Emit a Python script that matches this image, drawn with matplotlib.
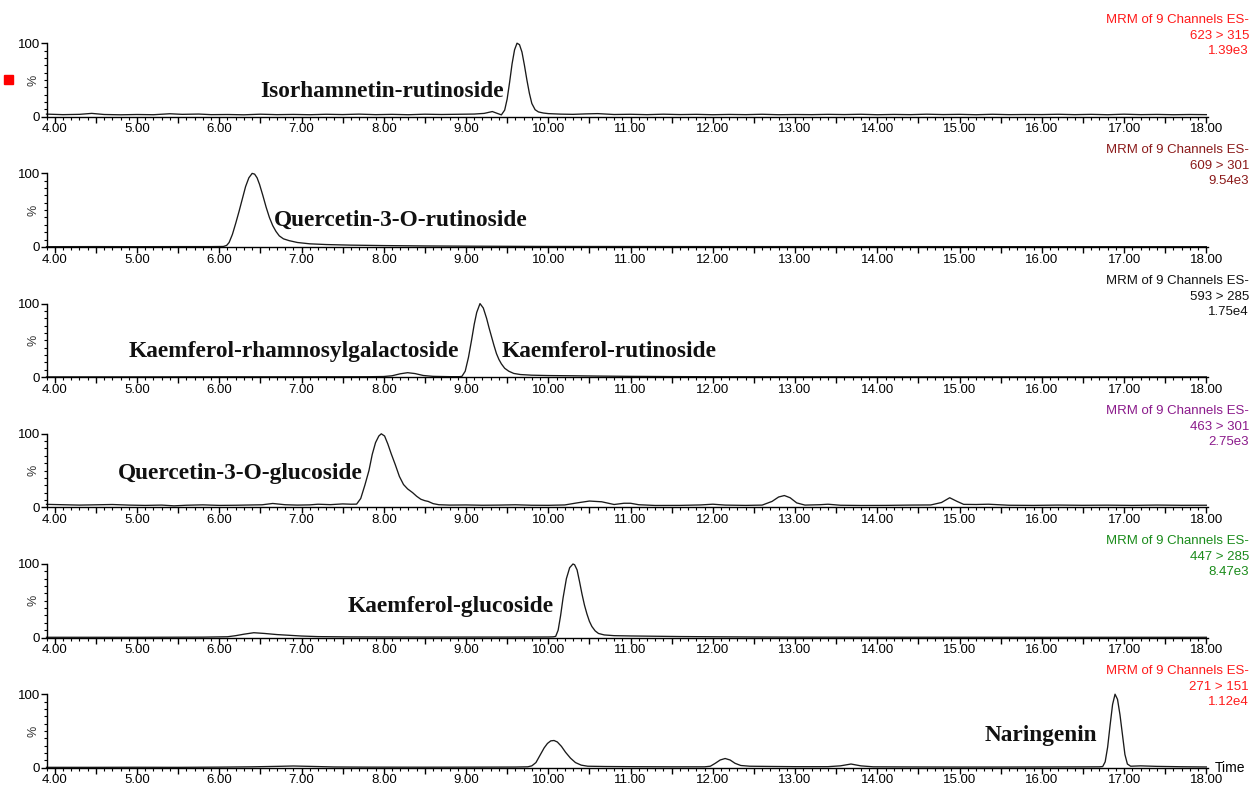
import matplotlib
matplotlib.use("Agg")
import matplotlib.pyplot as plt
import matplotlib.ticker as ticker
from matplotlib.patches import Rectangle

# MRM chromatograms, (retention time [min], relative intensity [%]) per channel
trace_1 = [(3.90, 3.5), (4.10, 2.8), (4.30, 3.2), (4.45, 4.5), (4.60, 3.0), (4.80, 2.6),
           (5.00, 3.0), (5.20, 2.7), (5.40, 4.0), (5.55, 3.2), (5.75, 3.6), (5.90, 2.8),
           (6.10, 3.0), (6.30, 2.6), (6.50, 3.4), (6.70, 2.8), (6.90, 3.1), (7.10, 2.7),
           (7.30, 3.3), (7.50, 2.9), (7.70, 3.5), (7.90, 2.8), (8.10, 3.2), (8.30, 2.7),
           (8.50, 3.4), (8.70, 3.0), (8.90, 3.3), (9.10, 3.6), (9.22, 4.5), (9.32, 7.0),
           (9.38, 4.5), (9.43, 2.5), (9.47, 9.0), (9.50, 24), (9.53, 47), (9.56, 72),
           (9.59, 91), (9.62, 100), (9.65, 98), (9.68, 88), (9.71, 70), (9.74, 50),
           (9.77, 32), (9.80, 18), (9.84, 9.5), (9.88, 6.5), (9.94, 5.0), (10.00, 4.2),
           (10.15, 3.5), (10.30, 3.2), (10.45, 3.8), (10.60, 4.2), (10.80, 3.0), (11.00, 3.3),
           (11.20, 2.8), (11.40, 3.4), (11.60, 2.9), (11.80, 3.2), (12.00, 2.7), (12.20, 3.1),
           (12.40, 2.8), (12.60, 3.3), (12.80, 2.7), (13.00, 3.0), (13.20, 2.8), (13.40, 3.2),
           (13.60, 2.9), (13.80, 3.3), (14.00, 2.7), (14.20, 3.1), (14.40, 2.8), (14.60, 3.4),
           (14.80, 2.9), (15.00, 3.2), (15.20, 2.7), (15.40, 3.3), (15.60, 2.8), (15.80, 3.0),
           (16.00, 2.9), (16.20, 3.3), (16.40, 2.8), (16.60, 3.2), (16.80, 2.7), (17.00, 3.4),
           (17.20, 2.8), (17.40, 3.1), (17.60, 2.7), (17.80, 3.0), (18.00, 2.8)]

trace_2 = [(3.90, 0.3), (4.50, 0.4), (5.00, 0.3), (5.50, 0.4), (5.90, 0.4), (6.05, 0.6),
           (6.09, 2), (6.12, 6), (6.16, 17), (6.20, 32), (6.24, 48), (6.28, 65), (6.32, 82),
           (6.36, 94), (6.40, 100), (6.43, 99), (6.46, 94), (6.49, 85), (6.53, 70), (6.57, 54),
           (6.61, 40), (6.65, 29), (6.69, 21), (6.73, 15), (6.78, 11), (6.85, 8.5), (6.95, 6),
           (7.10, 4.2), (7.30, 3.2), (7.60, 2.4), (8.00, 1.8), (8.50, 1.3), (9.00, 1.0),
           (9.50, 0.8), (10.0, 0.6), (11.0, 0.5), (12.0, 0.4), (14.0, 0.4), (16.0, 0.3),
           (18.0, 0.3)]

trace_3 = [(3.90, 0.3), (5.00, 0.3), (6.00, 0.4), (7.00, 0.4), (7.80, 0.5), (8.00, 0.8),
           (8.10, 1.8), (8.20, 4.5), (8.29, 6), (8.38, 4.8), (8.48, 2.2), (8.60, 1.0),
           (8.80, 0.6), (8.92, 0.6), (8.95, 1), (8.99, 8), (9.03, 27), (9.07, 52), (9.10, 72),
           (9.13, 88), (9.17, 100), (9.21, 94), (9.25, 80), (9.28, 67), (9.31, 55), (9.34, 43),
           (9.37, 32), (9.40, 24), (9.43, 18), (9.47, 12), (9.52, 8), (9.58, 5), (9.66, 3.5),
           (9.80, 2.6), (10.0, 2.1), (10.3, 1.8), (10.6, 1.4), (11.0, 1.0), (11.5, 0.7),
           (12.0, 0.5), (13.0, 0.4), (15.0, 0.3), (18.0, 0.3)]

trace_4 = [(3.90, 4.0), (4.10, 3.5), (4.30, 3.0), (4.50, 3.4), (4.70, 3.8), (4.90, 3.0),
           (5.10, 2.6), (5.30, 3.0), (5.45, 2.0), (5.60, 2.8), (5.80, 3.3), (6.00, 2.6),
           (6.20, 2.8), (6.40, 3.2), (6.52, 3.4), (6.65, 5.2), (6.80, 3.5), (6.95, 3.0),
           (7.10, 3.3), (7.20, 4.2), (7.35, 3.6), (7.50, 4.6), (7.60, 4.2), (7.67, 4.3),
           (7.72, 12), (7.77, 30), (7.82, 50), (7.86, 72), (7.90, 88), (7.94, 97), (7.97, 100),
           (8.01, 97), (8.05, 86), (8.09, 73), (8.14, 58), (8.19, 42), (8.24, 31), (8.29, 25),
           (8.35, 20), (8.40, 15), (8.45, 11), (8.50, 9), (8.54, 8), (8.60, 5), (8.67, 3.5),
           (8.80, 3.0), (9.00, 3.2), (9.20, 2.8), (9.40, 3.0), (9.60, 3.4), (9.80, 2.8),
           (10.0, 2.7), (10.2, 3.2), (10.35, 6), (10.50, 8.5), (10.65, 7.5), (10.80, 3.8),
           (10.92, 5.5), (11.00, 5.5), (11.10, 3.5), (11.30, 2.5), (11.60, 2.6), (11.85, 3.2),
           (12.00, 4.2), (12.15, 3.0), (12.40, 2.6), (12.60, 3.0), (12.72, 8), (12.80, 14),
           (12.87, 16), (12.94, 13), (13.02, 6), (13.12, 3), (13.30, 3.5), (13.40, 4.2),
           (13.55, 2.8), (13.80, 2.5), (14.10, 2.6), (14.40, 3.0), (14.65, 3.2), (14.78, 6.5),
           (14.88, 13), (14.97, 8), (15.05, 4), (15.20, 3.8), (15.35, 4.2), (15.60, 2.8),
           (15.90, 2.6), (16.20, 3.0), (16.50, 2.7), (16.80, 2.9), (17.10, 2.6), (17.40, 3.0),
           (17.70, 2.7), (18.00, 2.8)]

trace_5 = [(3.90, 0.3), (5.00, 0.3), (5.80, 0.5), (6.10, 1.0), (6.20, 2.5), (6.30, 4.5),
           (6.42, 6.5), (6.55, 5.5), (6.70, 4.0), (6.85, 3.0), (7.00, 2.0), (7.20, 1.2),
           (7.60, 0.8), (8.50, 0.6), (9.50, 0.6), (10.0, 0.7), (10.06, 0.9), (10.09, 1.5),
           (10.12, 10), (10.15, 30), (10.18, 54), (10.22, 80), (10.26, 95), (10.30, 100),
           (10.32, 99), (10.35, 92), (10.38, 76), (10.41, 59), (10.44, 44), (10.47, 32),
           (10.50, 22), (10.53, 15), (10.57, 9), (10.61, 5.5), (10.68, 3.5), (10.80, 2.5),
           (11.0, 2.1), (11.3, 1.7), (11.6, 1.3), (12.0, 1.0), (12.5, 0.7), (13.0, 0.5),
           (14.0, 0.4), (16.0, 0.3), (18.0, 0.3)]

trace_6 = [(3.90, 0.5), (4.50, 0.5), (5.00, 0.6), (5.50, 0.5), (6.00, 0.8), (6.40, 1.2),
           (6.70, 1.8), (6.90, 2.3), (7.10, 1.8), (7.40, 1.0), (7.80, 0.8), (8.50, 0.7),
           (9.20, 0.8), (9.60, 0.9), (9.75, 1.2), (9.80, 2.5), (9.85, 7), (9.90, 17),
           (9.95, 27), (9.99, 33), (10.03, 36.5), (10.07, 37), (10.11, 35), (10.16, 29),
           (10.21, 21), (10.27, 13), (10.33, 7), (10.40, 3.5), (10.48, 2), (10.7, 1.6),
           (11.0, 1.4), (11.5, 1.2), (11.9, 1.2), (11.97, 2), (12.03, 6), (12.09, 10.5),
           (12.15, 12.5), (12.21, 10.5), (12.27, 6), (12.34, 3), (12.45, 2), (12.7, 1.7),
           (13.0, 1.4), (13.4, 1.4), (13.55, 2.5), (13.68, 5), (13.80, 2.5), (13.95, 1.2),
           (14.5, 1.0), (15.0, 0.9), (15.5, 0.9), (16.0, 1.0), (16.5, 1.1), (16.70, 1.2),
           (16.74, 1.6), (16.77, 8), (16.80, 28), (16.83, 58), (16.86, 86), (16.89, 100),
           (16.92, 93), (16.95, 72), (16.98, 45), (17.01, 18), (17.04, 5), (17.08, 2),
           (17.2, 2.5), (17.4, 1.8), (17.7, 1.3), (18.0, 1.0)]

traces = [trace_1, trace_2, trace_3, trace_4, trace_5, trace_6]
transitions = ["623 > 315", "609 > 301", "593 > 285", "463 > 301", "447 > 285", "271 > 151"]
max_counts = ["1.39e3", "9.54e3", "1.75e4", "2.75e3", "8.47e3", "1.12e4"]
header_colors = ["#ff1a1a", "#8b1a1a", "#111111", "#8b1a8b", "#1a8b1a", "#ff1a1a"]

# compound names and where they sit (rt, %) in each panel
compounds = [
    [("Isorhamnetin-rutinoside", 6.50, 27)],
    [("Quercetin-3-O-rutinoside", 6.66, 28)],
    [("Kaemferol-rhamnosylgalactoside", 4.90, 28), ("Kaemferol-rutinoside", 9.43, 27)],
    [("Quercetin-3-O-glucoside", 4.77, 38)],
    [("Kaemferol-glucoside", 7.56, 35)],
    [("Naringenin", 15.30, 37)],
]

W, H = 1255, 789
fig = plt.figure(figsize=(W / 100, H / 100), dpi=100)
plt.rcParams['font.family'] = ['Liberation Sans', 'DejaVu Sans']

ax_left, ax_right = 46.5, 1208.0
ax_h = 73.5
for i, trace in enumerate(traces):
    bottom_px = 116.7 + 130.2 * i
    ax = fig.add_axes([ax_left / W, 1 - bottom_px / H, (ax_right - ax_left) / W, ax_h / H])
    rt = [p[0] for p in trace]
    pct = [p[1] for p in trace]
    ax.plot(rt, pct, color='#1a1a1a', linewidth=0.95, clip_on=False)

    ax.set_xlim(3.9, 18.02)
    ax.set_ylim(0, 100)
    for side in ['top', 'right']:
        ax.spines[side].set_visible(False)
    for side in ['left', 'bottom']:
        ax.spines[side].set_linewidth(1.0)

    ax.xaxis.set_major_locator(ticker.MultipleLocator(0.5))
    ax.xaxis.set_minor_locator(ticker.MultipleLocator(0.1))
    ax.xaxis.set_major_formatter(ticker.FuncFormatter(
        lambda x, p: f"{x:.2f}" if abs(x - round(x)) < 1e-6 else ""))
    ax.yaxis.set_major_locator(ticker.FixedLocator([0, 100]))
    ax.yaxis.set_minor_locator(ticker.MultipleLocator(10))
    ax.tick_params(axis='x', which='major', length=4, width=1.0, pad=0.8, labelsize=9.5)
    ax.tick_params(axis='x', which='minor', length=2.4, width=0.8)
    ax.tick_params(axis='y', which='major', length=4.3, width=1.0, pad=0.5, labelsize=9.5)
    ax.tick_params(axis='y', which='minor', length=2.2, width=0.8)

    ax.text(-0.011, 0.5, "%", transform=ax.transAxes, rotation=90,
            ha='center', va='center', fontsize=9, color='#333333')

    col = header_colors[i]
    ax.text(1.0352, 1.313, "MRM of 9 Channels ES-", transform=ax.transAxes,
            ha='right', va='center', fontsize=9.5, color=col)
    ax.text(1.0352, 1.095, transitions[i], transform=ax.transAxes,
            ha='right', va='center', fontsize=9.5, color=col)
    ax.text(1.0352, 0.89, max_counts[i], transform=ax.transAxes,
            ha='right', va='center', fontsize=9.5, color=col)

    for name, x, y in compounds[i]:
        ax.text(x, y, name, ha='left', va='baseline', fontsize=16.8,
                fontweight='bold', family='Liberation Serif', color='#111111')

    if i == len(traces) - 1:
        ax.text(1.006, 0.0, "Time", transform=ax.transAxes,
                ha='left', va='center', fontsize=10)

# selection marker next to the first trace
fig.patches.append(Rectangle((4 / W, 1 - 84 / H), 9 / W, 9 / H,
                             transform=fig.transFigure, color='#ff0000'))

fig.savefig("out.png", dpi=100)
